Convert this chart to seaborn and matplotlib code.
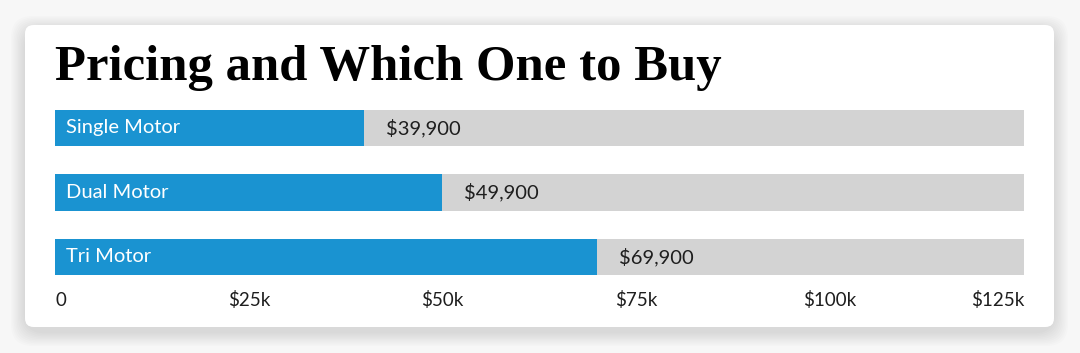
import numpy as np
import pandas as pd
import matplotlib
matplotlib.use("Agg")
import matplotlib.pyplot as plt
from matplotlib.patches import FancyBboxPatch
import seaborn as sns

# data
models = ["Single Motor", "Dual Motor", "Tri Motor"]
prices = [39900, 49900, 69900]
axis_max = 125000
tick_values = [0, 25000, 50000, 75000, 100000, 125000]
tick_labels = ["0", "$25k", "$50k", "$75k", "$100k", "$125k"]
title = "Pricing and Which One to Buy"

blue = "#1a93d1"
grey = "#d3d3d3"
ink = "#1e1e1e"

sns.set_theme(style="white")
plt.rcParams["font.family"] = ["Lato", "DejaVu Sans"]

df = pd.DataFrame({"model": models, "price": prices})
df["full"] = axis_max

W, H = 1080, 353
fig = plt.figure(figsize=(W / 100, H / 100), dpi=100)
fig.patch.set_facecolor("#f7f7f7")

# card with soft shadow (pixel coords -> figure fraction)
def px_box(x0, y0, x1, y1):
    return x0 / W, 1 - y1 / H, (x1 - x0) / W, (y1 - y0) / H

for i in range(10):
    g = 14 - 1.4 * i
    bx, by, bw, bh = px_box(25 - g, 25 - g + 5, 1054 + g, 327 + g + 5)
    fig.patches.append(FancyBboxPatch((bx, by), bw, bh, boxstyle="round,pad=0,rounding_size=0.02",
                                      transform=fig.transFigure, facecolor="black", edgecolor="none",
                                      alpha=0.012, mutation_aspect=W / H, zorder=0))
bx, by, bw, bh = px_box(25, 25, 1054, 327)
fig.patches.append(FancyBboxPatch((bx, by), bw, bh, boxstyle="round,pad=0,rounding_size=0.008",
                                  transform=fig.transFigure, facecolor="white", edgecolor="none",
                                  mutation_aspect=W / H, zorder=1))

ax_l, ax_r = 55, 1024
ax_t, ax_b = 105, 279
ax = fig.add_axes([ax_l / W, 1 - ax_b / H, (ax_r - ax_l) / W, (ax_b - ax_t) / H])
ax.set_facecolor("none")
ax.set_zorder(2)

sns.barplot(data=df, x="full", y="model", orient="h", color=grey, width=0.56,
            saturation=1, linewidth=0, ax=ax, zorder=1)
sns.barplot(data=df, x="price", y="model", orient="h", color=blue, width=0.56,
            saturation=1, linewidth=0, ax=ax, zorder=2)

ax.set_xlim(0, axis_max)
ax.set_ylim(2 + 22 / 64.5, -23 / 64.5)
sns.despine(ax=ax, left=True, bottom=True)
ax.set_ylabel("")
ax.set_xlabel("")
ax.set_yticks([])

ax.set_xticks(tick_values)
ax.set_xticklabels(tick_labels, fontsize=13.5, color=ink)
ax.tick_params(axis="x", length=0, pad=9)
labs = ax.get_xticklabels()
labs[0].set_ha("left")
labs[-1].set_ha("right")

px_per_unit = axis_max / (ax_r - ax_l)
for i, (m, p) in enumerate(zip(models, prices)):
    ax.text(11 * px_per_unit, i, m, color="white", fontsize=14.5, va="center", ha="left", zorder=3)
    ax.text(p + 22 * px_per_unit, i, f"${p:,}", color=ink, fontsize=14.5, va="center", ha="left", zorder=3)

fig.text(55 / W, 1 - 68 / H, title, fontsize=36.5, fontweight="bold", color="black",
         family="Liberation Serif", va="center", ha="left", zorder=3)

fig.savefig("out.png", dpi=100, facecolor=fig.get_facecolor())
